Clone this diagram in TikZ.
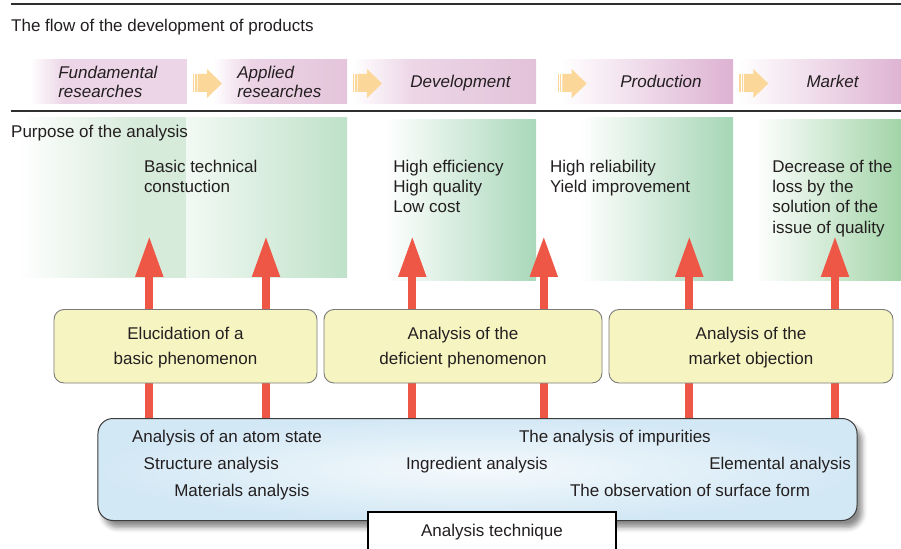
\documentclass[tikz,border=0pt]{standalone}
\usepackage{fontspec}
\setmainfont{Liberation Sans}
\usetikzlibrary{arrows.meta,shadows.blur}

\definecolor{ink}{HTML}{231F20}
\definecolor{rulegray}{HTML}{2E2E2E}
\definecolor{chevron}{HTML}{FCD79A}
\definecolor{redup}{HTML}{EE5646}
\definecolor{boxyellow}{HTML}{F6F5C2}
\definecolor{boxedge}{HTML}{7A7A7A}
\definecolor{techblue}{HTML}{D3E8F5}
\definecolor{techcore}{HTML}{F4F9FC}
\definecolor{techedge}{HTML}{3C3C3C}
% stage bands
\definecolor{pinkA}{RGB}{236,213,230}
\definecolor{pinkB}{RGB}{236,211,229}
\definecolor{pinkBd}{RGB}{228,197,219}
\definecolor{pinkC}{RGB}{237,214,231}
\definecolor{pinkCd}{RGB}{226,194,217}
\definecolor{pinkD}{RGB}{221,178,210}
\definecolor{pinkE}{RGB}{222,180,211}
% purpose panels
\definecolor{greenA}{RGB}{215,235,219}
\definecolor{greenBl}{RGB}{242,249,244}
\definecolor{greenB}{RGB}{190,225,200}
\definecolor{greenC}{RGB}{169,216,186}
\definecolor{greenD}{RGB}{165,214,181}
\definecolor{greenE}{RGB}{162,212,168}

% several lines whose baseline is that of the first line
\newcommand\stacktext[2][l]{\begin{tabular}[t]{@{}#1@{}}#2\end{tabular}}

\begin{document}
\begin{tikzpicture}[x=1bp,y=-1bp,
  txt/.style={inner sep=0pt, outer sep=0pt, anchor=base west, text=ink,
    font=\fontsize{17.06}{20.4}\selectfont},
  stagetxt/.style={txt, font=\fontsize{17.06}{19.4}\selectfont\itshape},
  hrule/.style={draw=rulegray, line width=2bp},
  redarrow/.style={draw=redup, line width=8bp,
    -{Triangle[length=41bp,width=26bp]}},
  aimbox/.style={draw=boxedge, line width=0.9bp, fill=boxyellow,
    rounded corners=10bp, anchor=north, inner xsep=0pt, inner ysep=11.8bp,
    outer sep=0pt, text height=18bp, text depth=31.9bp, align=center,
    text=ink, font=\fontsize{17.06}{25.7}\selectfont},
  chev/.pic={
    \fill[chevron] (0,5) rectangle (1.2,23);
    \fill[chevron] (2.3,5) rectangle (3.5,23);
    \fill[chevron] (4.6,5) -- (14,5) -- (14,0) -- (29,14.5) -- (14,29)
      -- (14,23) -- (4.6,23) -- cycle;
  }
]
\useasboundingbox (0,0) rectangle (901,549);
\clip (0,0) rectangle (901,549);

% ---------- header rules and titles ----------
\draw[hrule] (10.5,4) -- (901,4);
\draw[hrule] (10.5,111) -- (901,111);
\node[txt] (flowtitle) at (11.2,31.7) {The flow of the development of products};

% ---------- product stages ----------
\shade[left color=white, right color=pinkA] (30,59.5) rectangle (64,104);
\fill[pinkA] (63.5,59.5) rectangle (187,104);

\shade[left color=white, right color=pinkB] (213,59.5) rectangle (252,104);
\shade[left color=pinkB, right color=pinkBd] (251.5,59.5) rectangle (347,104);

\shade[left color=white, right color=pinkC] (352,59.5) rectangle (412,104);
\shade[left color=pinkC, right color=pinkCd] (411.5,59.5) rectangle (536,104);

\shade[left color=white, right color=pinkD] (560,59.5) rectangle (733,104);
\shade[left color=white, right color=pinkE] (738,59.5) rectangle (901,104);

\pic at (193,69) {chev};
\pic at (353,69) {chev};
\pic at (557.7,69) {chev};
\pic at (739.3,69) {chev};

\node[stagetxt] (fund) at (58.3,78.3) {\stacktext{Fundamental\\researches}};
\node[stagetxt] (appl) at (237.3,78.3) {\stacktext{Applied\\researches}};
\node[stagetxt, anchor=base] (devel) at (460.5,87.7) {Development};
\node[stagetxt, anchor=base] (prod) at (661,87.7) {Production};
\node[stagetxt, anchor=base] (mkt) at (832.5,87.7) {Market};

% ---------- purposes ----------
\shade[left color=white, right color=greenA] (18,117.5) rectangle (136,278);
\fill[greenA] (135.5,117.5) rectangle (186,278);
\shade[left color=greenBl, right color=greenB] (186,117.5) rectangle (347,278);
\shade[left color=white, right color=greenC] (385,120) rectangle (536,280.5);
\shade[left color=white, right color=greenD] (580,117.5) rectangle (733,281);
\shade[left color=white, right color=greenE] (755,120) rectangle (901,281);

\node[txt] (purpose) at (11.2,137.3) {Purpose of the analysis};
\node[txt] (aimA) at (144,172.3) {\stacktext{Basic technical\\constuction}};
\node[txt] (aimB) at (393.3,172.3) {\stacktext{High efficiency\\High quality\\Low cost}};
\node[txt] (aimC) at (550,172.3) {\stacktext{High reliability\\Yield improvement}};
\node[txt] (aimD) at (772.3,172.3) {\stacktext{Decrease of the\\loss by the\\solution of the\\issue of quality}};

% ---------- arrows rising from the analysis technique box ----------
\coordinate (t1) at (149.3,236);
\coordinate (t2) at (266,236);
\coordinate (t3) at (412.3,236);
\coordinate (t4) at (543.8,236);
\coordinate (t5) at (689.3,236);
\coordinate (t6) at (835,236);
\coordinate (techtop) at (477.5,418);

\foreach \t in {t1,t2,t3,t4,t5,t6}
  \draw[redarrow] (techtop -| \t) -- (\t);

% ---------- kinds of analysis ----------
\node[aimbox, minimum width=263bp] (elucid) at (185.5,309.5)
  {\stacktext[c]{Elucidation of a\\basic phenomenon}};
\node[aimbox, minimum width=278bp] (defic) at (463,309.5)
  {\stacktext[c]{Analysis of the\\deficient phenomenon}};
\node[aimbox, minimum width=284bp] (market) at (751,309.5)
  {\stacktext[c]{Analysis of the\\market objection}};

\node[draw=techedge, line width=1bp,
  rounded corners=15bp, minimum width=759bp, minimum height=102bp,
  inner color=techcore, outer color=techblue, anchor=north,
  blur shadow={shadow xshift=5bp, shadow yshift=-7bp,
    shadow blur radius=5bp, shadow opacity=45}]
  (tech) at (techtop) {};

\node[txt] (atom) at (132,442.3) {Analysis of an atom state};
\node[txt] (struct) at (143.7,469.3) {Structure analysis};
\node[txt] (mater) at (174.3,496.7) {Materials analysis};
\node[txt] (ingr) at (406,469.3) {Ingredient analysis};
\node[txt] (impur) at (519,442.3) {The analysis of impurities};
\node[txt] (elem) at (709.3,469.3) {Elemental analysis};
\node[txt] (surf) at (570,496.7) {The observation of surface form};

\node[draw=black, line width=2bp, fill=white, anchor=north,
  minimum width=248bp, inner xsep=0pt, inner ysep=12.7bp, outer sep=0pt,
  text height=12bp, text depth=20bp, text=ink,
  font=\fontsize{17.06}{20.4}\selectfont]
  (method) at (492,512) {Analysis technique};
\end{tikzpicture}
\end{document}
